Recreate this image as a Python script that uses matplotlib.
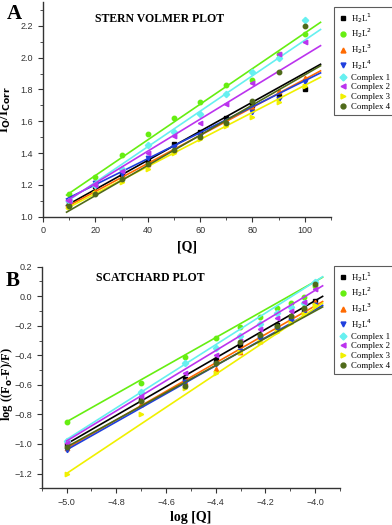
import numpy as np
import matplotlib
matplotlib.use("Agg")
import matplotlib.pyplot as plt
from matplotlib.ticker import MultipleLocator

series = ["H$_2$L$^1$", "H$_2$L$^2$", "H$_2$L$^3$", "H$_2$L$^4$",
          "Complex 1", "Complex 2", "Complex 3", "Complex 4"]
colors = ["#000000", "#66ee11", "#ff6a00", "#1f3fdd",
          "#66f0f0", "#bb33ee", "#f0f000", "#4f6a1a"]
markers = ["s", "o", "^", "v", "D", "<", ">", "o"]

# Stern-Volmer data
q = [10, 20, 30, 40, 50, 60, 70, 80, 90, 100]
sv_h2l1 = [1.09, 1.19, 1.27, 1.35, 1.46, 1.53, 1.62, 1.70, 1.76, 1.80]
sv_h2l2 = [1.14, 1.25, 1.385, 1.52, 1.62, 1.72, 1.83, 1.86, 2.02, 2.15]
sv_h2l3 = [1.08, 1.16, 1.25, 1.33, 1.42, 1.52, 1.60, 1.69, 1.79, 1.87]
sv_h2l4 = [1.10, 1.21, 1.27, 1.37, 1.44, 1.51, 1.58, 1.66, 1.74, 1.85]
sv_c1 = [1.10, 1.20, 1.30, 1.45, 1.535, 1.644, 1.77, 1.91, 2.00, 2.237]
sv_c2 = [1.10, 1.20, 1.29, 1.40, 1.51, 1.59, 1.71, 1.84, 2.02, 2.10]
sv_c3 = [1.06, 1.15, 1.22, 1.30, 1.40, 1.49, 1.57, 1.63, 1.72, 1.82]
sv_c4 = [1.07, 1.14, 1.24, 1.33, 1.42, 1.50, 1.59, 1.73, 1.91, 2.20]
# fitted lines (slope, intercept)
sv_slope = [0.00915, 0.0112, 0.00882, 0.00817, 0.01117, 0.01005, 0.00851, 0.00949]
sv_icpt = [0.9885, 1.035, 0.982, 1.038, 0.993, 1.01, 0.975, 0.943]

# Scatchard data
log_q = [-5.0, -4.699, -4.523, -4.398, -4.301, -4.222, -4.155, -4.097, -4.046, -4.0]
sc_h2l1 = [-1.00, -0.70, -0.56, -0.43, -0.33, -0.266, -0.194, -0.14, -0.09, -0.03]
sc_h2l2 = [-0.85, -0.59, -0.41, -0.28, -0.205, -0.143, -0.081, -0.043, -0.003, 0.07]
sc_h2l3 = [-1.03, -0.73, -0.58, -0.49, -0.38, -0.30, -0.22, -0.16, -0.11, -0.04]
sc_h2l4 = [-1.04, -0.67, -0.58, -0.46, -0.37, -0.29, -0.22, -0.17, -0.12, -0.06]
sc_c1 = [-0.98, -0.65, -0.45, -0.35, -0.268, -0.19, -0.115, -0.07, -0.043, 0.094]
sc_c2 = [-0.99, -0.68, -0.52, -0.40, -0.30, -0.223, -0.145, -0.10, -0.04, 0.05]
sc_c3 = [-1.20, -0.80, -0.62, -0.52, -0.38, -0.31, -0.24, -0.18, -0.12, -0.06]
sc_c4 = [-1.02, -0.71, -0.606, -0.45, -0.31, -0.26, -0.20, -0.131, -0.08, 0.083]
# fitted lines: value at log[Q] = -5 and slope
sc_start = [-1.00, -0.85, -1.03, -1.04, -0.97, -0.98, -1.20, -1.02]
sc_slope = [0.97, 0.95, 0.965, 0.95, 1.07, 1.02, 1.12, 0.92]

sv_all = [sv_h2l1, sv_h2l2, sv_h2l3, sv_h2l4, sv_c1, sv_c2, sv_c3, sv_c4]
sc_all = [sc_h2l1, sc_h2l2, sc_h2l3, sc_h2l4, sc_c1, sc_c2, sc_c3, sc_c4]

serif = "Liberation Serif"
sans = "Liberation Sans"

fig = plt.figure(figsize=(3.92, 5.25), dpi=100)
ax_a = fig.add_axes([43 / 392, 1 - 216.7 / 525, 288 / 392, 214.7 / 525])
ax_b = fig.add_axes([41.7 / 392, 1 - 488.3 / 525, 298.3 / 392, 221.6 / 525])


def style_axis(ax):
    for s in ("top", "right"):
        ax.spines[s].set_visible(False)
    for s in ("left", "bottom"):
        ax.spines[s].set_linewidth(1.0)
        ax.spines[s].set_color("#333333")
    ax.tick_params(which="both", direction="out", colors="#333333", labelsize=6.5)
    ax.tick_params(which="major", length=3.5)
    ax.tick_params(which="minor", length=2)
    for lbl in ax.get_xticklabels() + ax.get_yticklabels():
        lbl.set_fontfamily(sans)


def draw(ax, x, ys, lines, x0, x1):
    xx = np.array([x0, x1])
    for y, line, c, m, name in zip(ys, lines, colors, markers, series):
        ax.plot(xx, line(xx), color=c, lw=1.2)
        ax.plot(x, y, ls="none", marker=m, color=c, ms=3.2, label=name)


# panel A
sv_lines = [lambda x, k=k, b=b: k * x + b for k, b in zip(sv_slope, sv_icpt)]
draw(ax_a, q, sv_all, sv_lines, 9, 106)
ax_a.set_xlim(0, 110)
ax_a.set_ylim(1.0, 2.35)
ax_a.xaxis.set_major_locator(MultipleLocator(20))
ax_a.xaxis.set_minor_locator(MultipleLocator(10))
ax_a.yaxis.set_major_locator(MultipleLocator(0.2))
ax_a.yaxis.set_minor_locator(MultipleLocator(0.1))
style_axis(ax_a)
ax_a.set_xlabel("[Q]", family=serif, fontweight="bold", fontsize=10, labelpad=4)
ax_a.set_ylabel("I$_\\mathbf{O}$/I$_\\mathbf{Corr}$", family=serif,
                fontweight="bold", fontsize=9.5)
ax_a.yaxis.set_label_coords(-0.105, 0.5)
fig.text(160 / 392, 1 - 19 / 525, "STERN VOLMER PLOT", family=serif,
         fontweight="bold", fontsize=8.5, ha="center", va="center")
fig.text(14 / 392, 1 - 14 / 525, "A", family=serif, fontweight="bold",
         fontsize=15, ha="center", va="center")

# panel B
sc_lines = [lambda x, k=k, b=b: b + k * (x + 5.0) for k, b in zip(sc_slope, sc_start)]
draw(ax_b, log_q, sc_all, sc_lines, -5.0, -3.97)
ax_b.set_xlim(-5.1, -3.9)
ax_b.set_ylim(-1.3, 0.2)
ax_b.xaxis.set_major_locator(MultipleLocator(0.2))
ax_b.xaxis.set_minor_locator(MultipleLocator(0.1))
ax_b.yaxis.set_major_locator(MultipleLocator(0.2))
ax_b.yaxis.set_minor_locator(MultipleLocator(0.1))
style_axis(ax_b)
ax_b.set_xlabel("log [Q]", family=serif, fontweight="bold", fontsize=10, labelpad=3)
ax_b.set_ylabel("log ((F$_\\mathbf{o}$-F)/F)", family=serif,
                fontweight="bold", fontsize=9)
ax_b.yaxis.set_label_coords(-0.088, 0.47)
fig.text(150 / 392, 1 - 278 / 525, "SCATCHARD PLOT", family=serif,
         fontweight="bold", fontsize=8.5, ha="center", va="center")
fig.text(13 / 392, 1 - 281 / 525, "B", family=serif, fontweight="bold",
         fontsize=15, ha="center", va="center")

for ax, top in ((ax_a, 3), (ax_b, 262)):
    leg = ax.legend(loc="upper left", bbox_to_anchor=(330 / 392, 1 - top / 525),
                    bbox_transform=fig.transFigure, prop={"family": serif, "size": 6.3},
                    frameon=True, fancybox=False, edgecolor="#333333",
                    handletextpad=0.3, handlelength=1.2, borderpad=0.4,
                    labelspacing=0.2, markerscale=1.1)
    leg.get_frame().set_linewidth(0.8)

fig.savefig("out.png", dpi=100)
